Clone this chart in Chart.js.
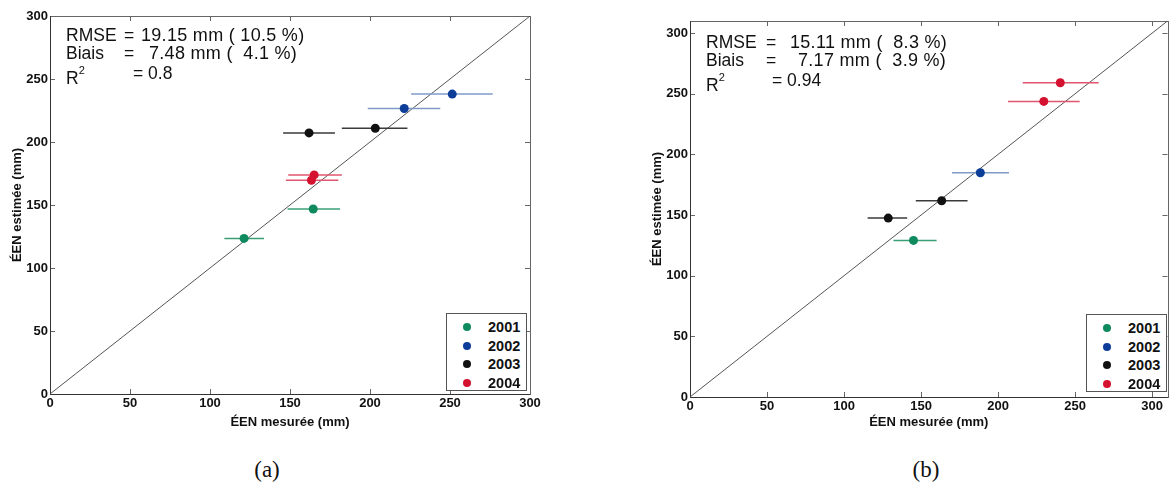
<!DOCTYPE html>
<html>
<head>
<meta charset="utf-8">
<script src="https://cdn.jsdelivr.net/npm/chart.js@4"></script>
<style>
  body { margin: 0; background: #fff; }
  #page { position: relative; width: 1172px; height: 491px; overflow: hidden; font-family: "Liberation Sans", Arial, sans-serif; color: #111; }
  canvas { position: absolute; top: 0; }
  .note { position: absolute; font-size: 17.5px; }
  .note span { position: absolute; white-space: pre; line-height: 20px; }
  .note span.v { font-size: 18px; letter-spacing: 0.3px; }
  .note sup { font-size: 11px; position: relative; top: -3px; }
  .legend { position: absolute; width: 79px; height: 76px; border: 1px solid #555; background: #fff; font-weight: bold; font-size: 14.5px; }
  .legend div { position: absolute; left: 0; height: 18px; line-height: 18px; }
  .legend i { position: absolute; left: 16px; top: 5px; width: 8px; height: 8px; border-radius: 50%; }
  .legend b { position: absolute; left: 41px; }
  .caption { position: absolute; top: 457px; font-family: "Liberation Serif", "DejaVu Serif", serif; font-size: 23px; transform: translateX(-50%); }
</style>
</head>
<body>
<div id="page">
  <canvas id="chartA" width="580" height="440" style="left:0"></canvas>
  <canvas id="chartB" width="532" height="440" style="left:640px"></canvas>
  <div class="note" id="noteA"></div>
  <div class="note" id="noteB"></div>
  <div class="legend" id="legendA" style="left:446px;top:313px"></div>
  <div class="legend" id="legendB" style="left:1086px;top:314px"></div>
  <div class="caption" style="left:267px">(a)</div>
  <div class="caption" style="left:926px">(b)</div>
</div>
<script>
// data
const years = ["2001", "2002", "2003", "2004"];
const tickValues = [0, 50, 100, 150, 200, 250, 300];

// panel (a) - one sub-array per year
const aMeasured = [[121.3, 164.5], [221.4, 251.4], [161.9, 203.3], [165.1, 163.4]];
const aEstimated = [[123.5, 146.8], [226.6, 238.0], [207.2, 210.9], [173.9, 169.6]];
const aLow = [[109.0, 148.5], [198.6, 225.7], [145.7, 182.4], [148.9, 147.4]];
const aHigh = [[133.8, 181.3], [243.9, 276.7], [178.1, 223.4], [182.4, 180.2]];
const aStats = ["19.15 mm ( 10.5 %)", "7.48 mm (  4.1 %)", "0.8"];

// panel (b)
const bMeasured = [[145.1], [188.5], [128.7, 163.4], [240.4, 229.7]];
const bEstimated = [[129.1], [184.9], [147.5, 161.8], [259.1, 243.7]];
const bLow = [[132.1], [170.1], [115.3, 146.6], [216.0, 206.4]];
const bHigh = [[160.1], [207.1], [141.0, 180.2], [265.3, 253.0]];
const bStats = ["15.11 mm (  8.3 %)", "7.17 mm (  3.9 %)", "0.94"];

const pointColors = ["#0e8a5e", "#0b3d99", "#111111", "#d4112f"];
const barColors = ["#3a9f78", "#7f9cc8", "#3a3a3a", "#e0566e"];

const tickFont = { family: "'Liberation Sans', Arial, sans-serif", size: 13, weight: "bold" };

// box round the plot + inward tick marks (matlab style)
const frame = {
  id: "frame",
  beforeDatasetsDraw(chart) {
    const { ctx, chartArea: a, scales: { x, y } } = chart;
    ctx.save();
    ctx.strokeStyle = "#666";
    ctx.lineWidth = 1;
    ctx.strokeRect(Math.round(a.left) + 0.5, Math.round(a.top) + 0.5, Math.round(a.width), Math.round(a.height));
    ctx.beginPath();
    x.ticks.forEach(t => {
      const px = Math.round(x.getPixelForValue(t.value)) + 0.5;
      ctx.moveTo(px, a.bottom); ctx.lineTo(px, a.bottom - 5);
      ctx.moveTo(px, a.top); ctx.lineTo(px, a.top + 5);
    });
    y.ticks.forEach(t => {
      const py = Math.round(y.getPixelForValue(t.value)) + 0.5;
      ctx.moveTo(a.left, py); ctx.lineTo(a.left + 5, py);
      ctx.moveTo(a.right, py); ctx.lineTo(a.right - 5, py);
    });
    ctx.stroke();
    ctx.strokeStyle = "#333";
    ctx.beginPath();
    ctx.moveTo(Math.round(a.left) + 0.5, a.top);
    ctx.lineTo(Math.round(a.left) + 0.5, Math.round(a.bottom) + 0.5);
    ctx.lineTo(a.right, Math.round(a.bottom) + 0.5);
    ctx.stroke();
    ctx.restore();
  }
};

function makeChart(id, axisMax, measured, estimated, low, high, pad, xHeight) {
  const datasets = [];
  years.forEach((yr, i) => {
    datasets.push({
      label: yr,
      data: measured[i].map((m, k) => ({ x: m, y: estimated[i][k] })),
      backgroundColor: pointColors[i],
      borderColor: pointColors[i],
      pointRadius: 4.5,
      pointBorderWidth: 0
    });
  });
  // horizontal error bars
  years.forEach((yr, i) => {
    measured[i].forEach((m, k) => {
      datasets.push({
        label: yr + " bar",
        data: [{ x: low[i][k], y: estimated[i][k] }, { x: high[i][k], y: estimated[i][k] }],
        showLine: true,
        borderColor: barColors[i],
        borderWidth: 1.5,
        pointRadius: 0
      });
    });
  });
  // 1:1 line
  datasets.push({
    label: "1:1",
    data: [{ x: 0, y: 0 }, { x: axisMax, y: axisMax }],
    showLine: true,
    borderColor: "#555",
    borderWidth: 1,
    pointRadius: 0
  });

  new Chart(document.getElementById(id), {
    type: "scatter",
    data: { datasets },
    plugins: [frame],
    options: {
      responsive: false,
      animation: false,
      events: [],
      layout: { padding: pad },
      plugins: { legend: { display: false }, tooltip: { enabled: false } },
      scales: {
        x: {
          type: "linear",
          min: 0,
          max: axisMax,
          afterBuildTicks: s => { s.ticks = tickValues.map(v => ({ value: v })); },
          afterFit: s => { s.height = xHeight; },
          grid: { display: false, drawTicks: false },
          border: { display: false },
          ticks: { font: tickFont, color: "#111", padding: 2, maxRotation: 0, autoSkip: false },
          title: { display: true, text: "ÉEN mesurée (mm)", font: tickFont, color: "#111", padding: { top: 0, bottom: 10 } }
        },
        y: {
          type: "linear",
          min: 0,
          max: axisMax,
          afterBuildTicks: s => { s.ticks = tickValues.map(v => ({ value: v })); },
          afterFit: s => { s.width = 50; },
          grid: { display: false, drawTicks: false },
          border: { display: false },
          ticks: { font: tickFont, color: "#111", padding: 2, autoSkip: false },
          title: { display: true, text: "ÉEN estimée (mm)", font: tickFont, color: "#111", padding: { top: 10, bottom: 0 } }
        }
      }
    }
  });
}

makeChart("chartA", 300, aMeasured, aEstimated, aLow, aHigh, { left: 0, top: 16, right: 50, bottom: 0 }, 46);
makeChart("chartB", 310, bMeasured, bEstimated, bLow, bHigh, { left: 0, top: 21, right: 4, bottom: 0 }, 43);

// stats text in the top left corner
function note(id, x, y, stats, eqX, valX, eq3X) {
  const el = document.getElementById(id);
  el.style.left = x + "px";
  el.style.top = y + "px";
  el.innerHTML =
    '<span style="left:0;top:0">RMSE</span>' +
    '<span style="left:' + eqX + 'px;top:0">=</span>' +
    '<span class="v" style="left:' + valX[0] + 'px;top:0">' + stats[0] + '</span>' +
    '<span style="left:0;top:18px">Biais</span>' +
    '<span style="left:' + eqX + 'px;top:18px">=</span>' +
    '<span class="v" style="left:' + valX[1] + 'px;top:18px">' + stats[1] + '</span>' +
    '<span style="left:0;top:38px">R<sup>2</sup></span>' +
    '<span style="left:' + eq3X + 'px;top:38px">= ' + stats[2] + '</span>';
}
note("noteA", 66, 25, aStats, 58, [75, 83], 67);
note("noteB", 706, 32, bStats, 60, [84, 92], 66);

function legend(id) {
  const el = document.getElementById(id);
  el.innerHTML = years.map((yr, i) =>
    '<div style="top:' + (4 + i * 18.5) + 'px;width:79px"><i style="background:' + pointColors[i] + '"></i><b>' + yr + '</b></div>'
  ).join("");
}
legend("legendA");
legend("legendB");
</script>
</body>
</html>
